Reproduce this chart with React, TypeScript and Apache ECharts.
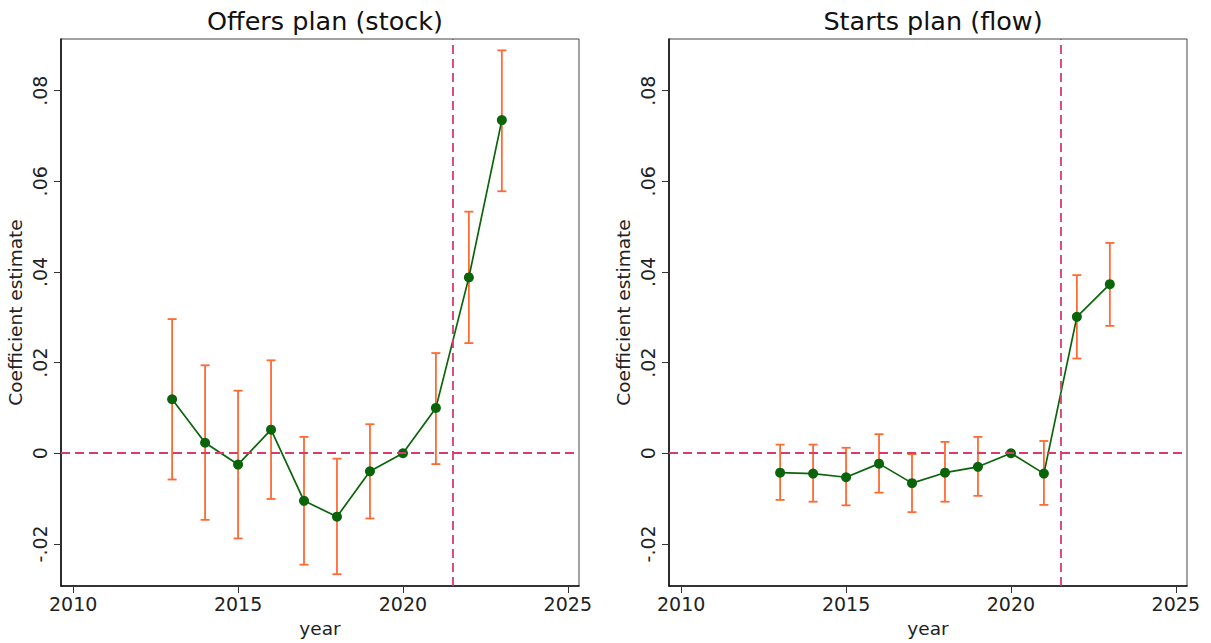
import React, { useEffect, useRef } from "react";
import * as echarts from "echarts";

// Event-study coefficients by year, with 95% confidence bounds
const years = [2013, 2014, 2015, 2016, 2017, 2018, 2019, 2020, 2021, 2022, 2023];

const offersCoef = [0.0119, 0.0023, -0.0025, 0.0052, -0.0105, -0.014, -0.004, 0, 0.01, 0.0388, 0.0735];
const offersLo = [-0.0058, -0.0147, -0.0188, -0.0101, -0.0246, -0.0267, -0.0144, 0, -0.0024, 0.0243, 0.0578];
const offersHi = [0.0296, 0.0194, 0.0138, 0.0205, 0.0036, -0.0012, 0.0064, 0, 0.0221, 0.0533, 0.0889];

const startsCoef = [-0.0043, -0.0045, -0.0053, -0.0023, -0.0066, -0.0043, -0.003, 0, -0.0045, 0.0301, 0.0373];
const startsLo = [-0.0103, -0.0107, -0.0115, -0.0087, -0.013, -0.0107, -0.0094, 0, -0.0114, 0.0209, 0.0281];
const startsHi = [0.0019, 0.0019, 0.0012, 0.0042, -0.0002, 0.0025, 0.0036, 0, 0.0027, 0.0393, 0.0464];

const panelTitles = ["Offers plan (stock)", "Starts plan (flow)"];
const xTicks = [2010, 2015, 2020, 2025];
const yTicks = [-0.02, 0, 0.02, 0.04, 0.06, 0.08];
const policyYear = 2021.5;

const FONT = "DejaVu Sans";
const GREEN = "#0a640a";
const ORANGE = "#ff6a33";
const PINK = "#db3b6c";

const fmtY = (v: number) => {
  if (Math.abs(v) < 1e-9) return "0";
  const s = Math.abs(v).toFixed(2).replace(/^0/, "");
  return (v < 0 ? "-" : "") + s;
};

function makeAxes(i: number) {
  const xAxis = {
    type: "value",
    gridIndex: i,
    min: 2009.63,
    max: 2025.34,
    name: "year",
    nameLocation: "middle",
    nameGap: 33,
    nameTextStyle: { fontFamily: FONT, fontSize: 18.5, color: "#222" },
    axisLine: { show: true, onZero: false, lineStyle: { color: "#111", width: 1.6 } },
    axisTick: { show: true, length: 7, customValues: xTicks, lineStyle: { color: "#333", width: 1 } },
    axisLabel: {
      customValues: xTicks,
      fontFamily: FONT,
      fontSize: 19,
      color: "#222",
      margin: 8,
      formatter: (v: number) => String(v),
    },
    splitLine: { show: false },
  };
  const yAxis = {
    type: "value",
    gridIndex: i,
    min: -0.0293,
    max: 0.0914,
    name: "Coefficient estimate",
    nameLocation: "middle",
    nameRotate: 90,
    nameGap: 36,
    nameTextStyle: { fontFamily: FONT, fontSize: 18.5, color: "#222" },
    axisLine: { show: true, onZero: false, lineStyle: { color: "#111", width: 1.6 } },
    axisTick: { show: true, length: 7, customValues: yTicks, lineStyle: { color: "#333", width: 1 } },
    axisLabel: {
      customValues: yTicks,
      rotate: 90,
      fontFamily: FONT,
      fontSize: 19,
      color: "#222",
      margin: 12,
      formatter: fmtY,
    },
    splitLine: { show: false },
  };
  return { xAxis, yAxis };
}

function makeSeries(i: number, coef: number[], lo: number[], hi: number[]) {
  const barData = years.map((y, k) => [y, lo[k], hi[k]]);
  const pointData = years.map((y, k) => [y, coef[k]]);
  return [
    {
      type: "custom",
      xAxisIndex: i,
      yAxisIndex: i,
      z: 2,
      silent: true,
      encode: { x: 0, y: [1, 2] },
      data: barData,
      renderItem: (_params: any, api: any) => {
        const x = api.value(0);
        const a = api.coord([x, api.value(1)]);
        const b = api.coord([x, api.value(2)]);
        const cap = 4.5;
        const style = { stroke: ORANGE, lineWidth: 1.8 };
        return {
          type: "group",
          children: [
            { type: "line", shape: { x1: a[0], y1: a[1], x2: b[0], y2: b[1] }, style },
            { type: "line", shape: { x1: a[0] - cap, y1: a[1], x2: a[0] + cap, y2: a[1] }, style },
            { type: "line", shape: { x1: b[0] - cap, y1: b[1], x2: b[0] + cap, y2: b[1] }, style },
          ],
        };
      },
    },
    {
      type: "line",
      xAxisIndex: i,
      yAxisIndex: i,
      z: 3,
      data: pointData,
      symbol: "circle",
      symbolSize: 10,
      showSymbol: true,
      lineStyle: { color: GREEN, width: 1.7 },
      itemStyle: { color: GREEN },
      markLine: {
        silent: true,
        symbol: ["none", "none"],
        label: { show: false },
        z: 5,
        lineStyle: { color: PINK, type: [9, 5], width: 1.8 },
        data: [{ yAxis: 0 }, { xAxis: policyYear }],
      },
    },
  ];
}

export default function App() {
  const ref = useRef<HTMLDivElement>(null);

  useEffect(() => {
    if (!ref.current) return;
    const chart = echarts.init(ref.current, undefined, { renderer: "svg" });
    const a0 = makeAxes(0);
    const a1 = makeAxes(1);
    const grids = [
      { left: 61, top: 39, width: 518, height: 550 },
      { left: 669, top: 39, width: 518, height: 550 },
    ].map((g) => ({ ...g, show: true, borderColor: "#444", borderWidth: 1, backgroundColor: "#fff" }));

    chart.setOption({
      animation: false,
      backgroundColor: "#fff",
      title: [
        {
          text: panelTitles[0],
          left: 320,
          top: 3,
          textAlign: "center",
          textStyle: { fontFamily: FONT, fontSize: 25.5, fontWeight: "normal", color: "#111" },
        },
        {
          text: panelTitles[1],
          left: 928,
          top: 3,
          textAlign: "center",
          textStyle: { fontFamily: FONT, fontSize: 25.5, fontWeight: "normal", color: "#111" },
        },
      ],
      grid: grids,
      xAxis: [a0.xAxis, a1.xAxis],
      yAxis: [a0.yAxis, a1.yAxis],
      series: [
        ...makeSeries(0, offersCoef, offersLo, offersHi),
        ...makeSeries(1, startsCoef, startsLo, startsHi),
      ],
    });
    return () => chart.dispose();
  }, []);

  return (
    <div
      ref={ref}
      style={{ position: "absolute", left: 0, top: 0, width: 1211, height: 643, background: "#fff" }}
    />
  );
}
